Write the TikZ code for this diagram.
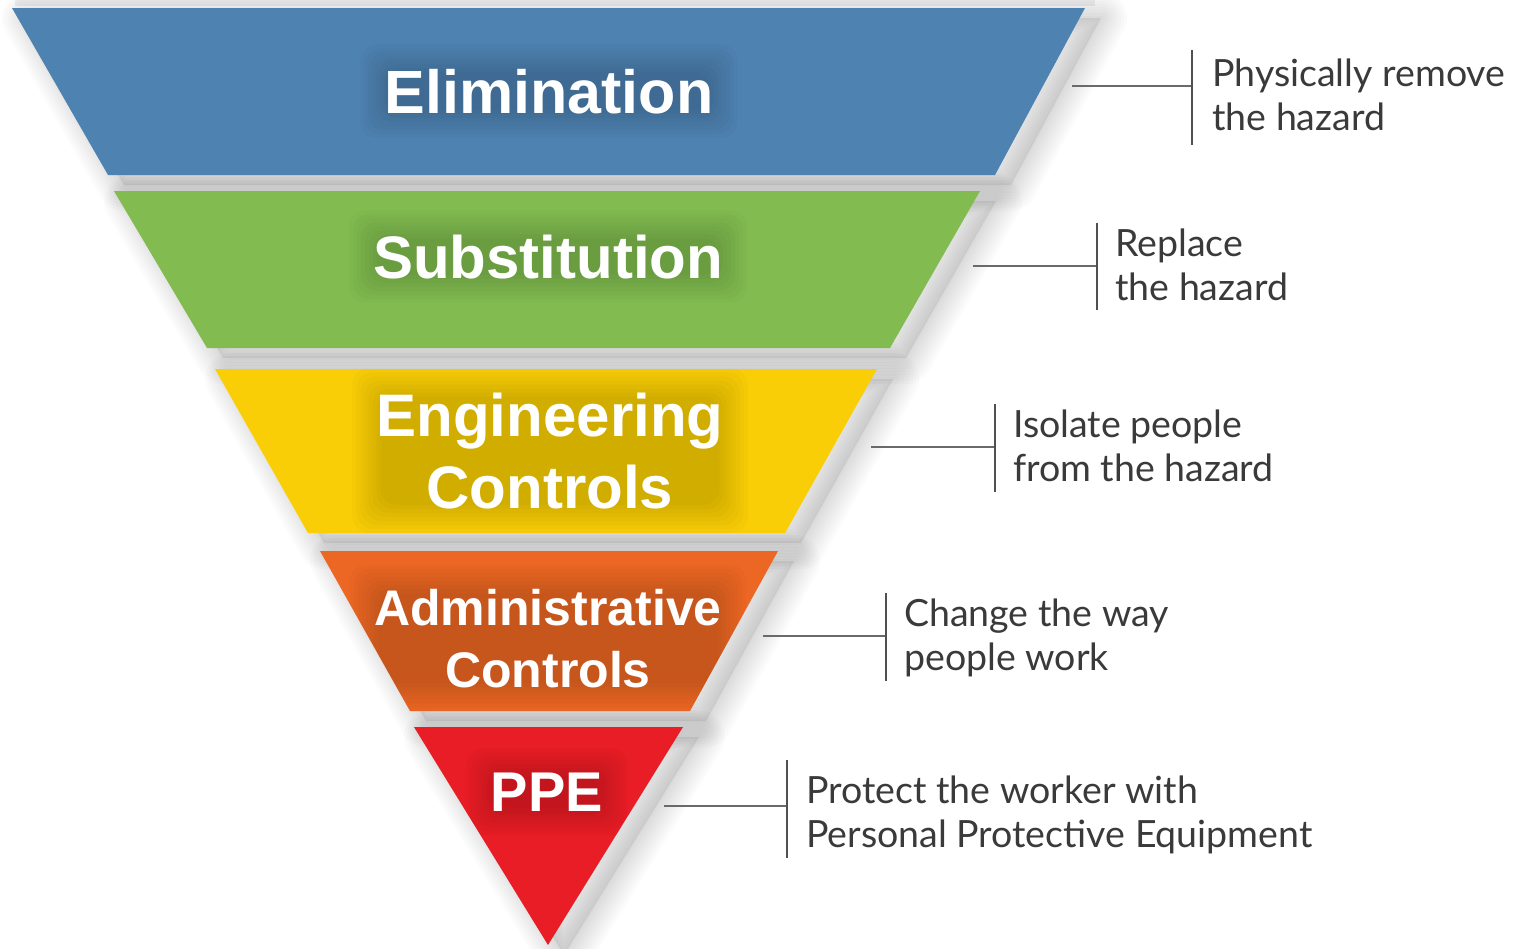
\documentclass[tikz,border=0pt]{standalone}
\usepackage{fontspec}
\newfontfamily\bandfont{Liberation Sans}
\newfontfamily\notefont{Lato}
\definecolor{elimc}{RGB}{78,130,177}
\definecolor{subsc}{RGB}{130,188,80}
\definecolor{engc}{RGB}{249,206,7}
\definecolor{admc}{RGB}{237,103,36}
\definecolor{ppec}{RGB}{232,29,37}
\definecolor{notegray}{RGB}{58,58,58}
\definecolor{linegray}{RGB}{80,80,80}
\pgfdeclarelayer{bands}
\pgfdeclarelayer{halo}
\pgfsetlayers{bands,halo,main}
\newcommand{\softshadow}[1]{%
  \begin{scope}[shift={(16,10)}]
    \foreach \w in {52,46,40,34,28,22,16,10,4}{\draw[black,opacity=0.016,line width=\w pt,line join=round] #1 -- cycle;}
    \fill[black,opacity=0.07] #1 -- cycle;
  \end{scope}}
\newcommand{\halo}[2]{%
  \begin{scope}
  \clip #2 -- cycle;
  \foreach \e in {-4,0,4,8,12,16,20,24}{\fill[black,opacity=0.02,rounded corners=16pt] ([shift={(-\e,\e)}]#1.south west) rectangle ([shift={(\e,-\e)}]#1.north east);}
  \end{scope}}
\tikzset{
  bandlabel/.style={font=\bandfont\bfseries, text=white, align=center, inner sep=0pt, anchor=base},
  note/.style={font=\notefont\fontsize{37.5}{44}\selectfont, text=notegray, align=left, anchor=base west, inner sep=0pt},
  hline/.style={draw=linegray!85, line width=2pt},
  vline/.style={draw=linegray, line width=2.4pt},
}
\begin{document}
\begin{tikzpicture}[x=1pt,y=-1pt]
\useasboundingbox (0,0) rectangle (1518,948);
\begin{pgfonlayer}{bands}
\fill[white] (0,0) rectangle (1518,948);
\fill[black,opacity=0.06] (15,0) rectangle (1095,6);
% shadows
\softshadow{(12,8) -- (1085,8) -- (995,175) -- (108,175)}
\softshadow{(114,191) -- (980,191) -- (890,348) -- (207,348)}
\softshadow{(215,369) -- (877,369) -- (785,533) -- (308,533)}
\softshadow{(320,551) -- (778,551) -- (690,711) -- (410,711)}
\softshadow{(414,727) -- (683,727) -- (548,945)}
% bands
\fill[elimc] (12,8) -- (1085,8) -- (995,175) -- (108,175) -- cycle;
\fill[subsc] (114,191) -- (980,191) -- (890,348) -- (207,348) -- cycle;
\fill[engc] (215,369) -- (877,369) -- (785,533) -- (308,533) -- cycle;
\fill[admc] (320,551) -- (778,551) -- (690,711) -- (410,711) -- cycle;
\fill[ppec] (414,727) -- (683,727) -- (548,945) -- cycle;
\end{pgfonlayer}
% band labels
\node[bandlabel,font=\bandfont\bfseries\fontsize{61}{72}\selectfont] (elim) at (549,113) {Elimination};
\node[bandlabel,font=\bandfont\bfseries\fontsize{60}{72}\selectfont] (subs) at (548,278) {Substitution};
\node[bandlabel,font=\bandfont\bfseries\fontsize{60}{72}\selectfont] (eng) at (550,508) {Engineering\\Controls};
\node[bandlabel,font=\bandfont\bfseries\fontsize{50}{62}\selectfont] (adm) at (548,687) {Administrative\\Controls};
\node[bandlabel,font=\bandfont\bfseries\fontsize{56}{66}\selectfont] (ppe) at (547,811) {PPE};
\begin{pgfonlayer}{halo}
\halo{elim}{(12,8) -- (1085,8) -- (995,175) -- (108,175)}
\halo{subs}{(114,191) -- (980,191) -- (890,348) -- (207,348)}
\halo{eng}{(215,369) -- (877,369) -- (785,533) -- (308,533)}
\halo{adm}{(320,551) -- (778,551) -- (690,711) -- (410,711)}
\halo{ppe}{(414,727) -- (683,727) -- (548,945)}
\end{pgfonlayer}
% notes
\node[note] (n1) at (1212,130) {Physically remove\\the hazard};
\node[note] (n2) at (1115,300) {Replace\\the hazard};
\node[note] (n3) at (1013,481) {Isolate people\\from the hazard};
\node[note] (n4) at (904,670) {Change the way\\people work};
\node[note] (n5) at (806,847) {Protect the worker with\\Personal Protective Equipment};
% connector coordinates
\coordinate (h1a) at (1072,86);  \coordinate (h1b) at (1192,86);
\coordinate (v1a) at (1192,50);  \coordinate (v1b) at (1192,145);
\coordinate (h2a) at (973,266);  \coordinate (h2b) at (1097,266);
\coordinate (v2a) at (1097,223); \coordinate (v2b) at (1097,310);
\coordinate (h3a) at (871,447);  \coordinate (h3b) at (995,447);
\coordinate (v3a) at (995,404);  \coordinate (v3b) at (995,492);
\coordinate (h4a) at (763,636);  \coordinate (h4b) at (886,636);
\coordinate (v4a) at (886,593);  \coordinate (v4b) at (886,681);
\coordinate (h5a) at (664,806);  \coordinate (h5b) at (787,806);
\coordinate (v5a) at (787,760);  \coordinate (v5b) at (787,858);
\draw[hline] (h1a) -- (h1b); \draw[vline] (v1a) -- (v1b);
\draw[hline] (h2a) -- (h2b); \draw[vline] (v2a) -- (v2b);
\draw[hline] (h3a) -- (h3b); \draw[vline] (v3a) -- (v3b);
\draw[hline] (h4a) -- (h4b); \draw[vline] (v4a) -- (v4b);
\draw[hline] (h5a) -- (h5b); \draw[vline] (v5a) -- (v5b);
\end{tikzpicture}
\end{document}
